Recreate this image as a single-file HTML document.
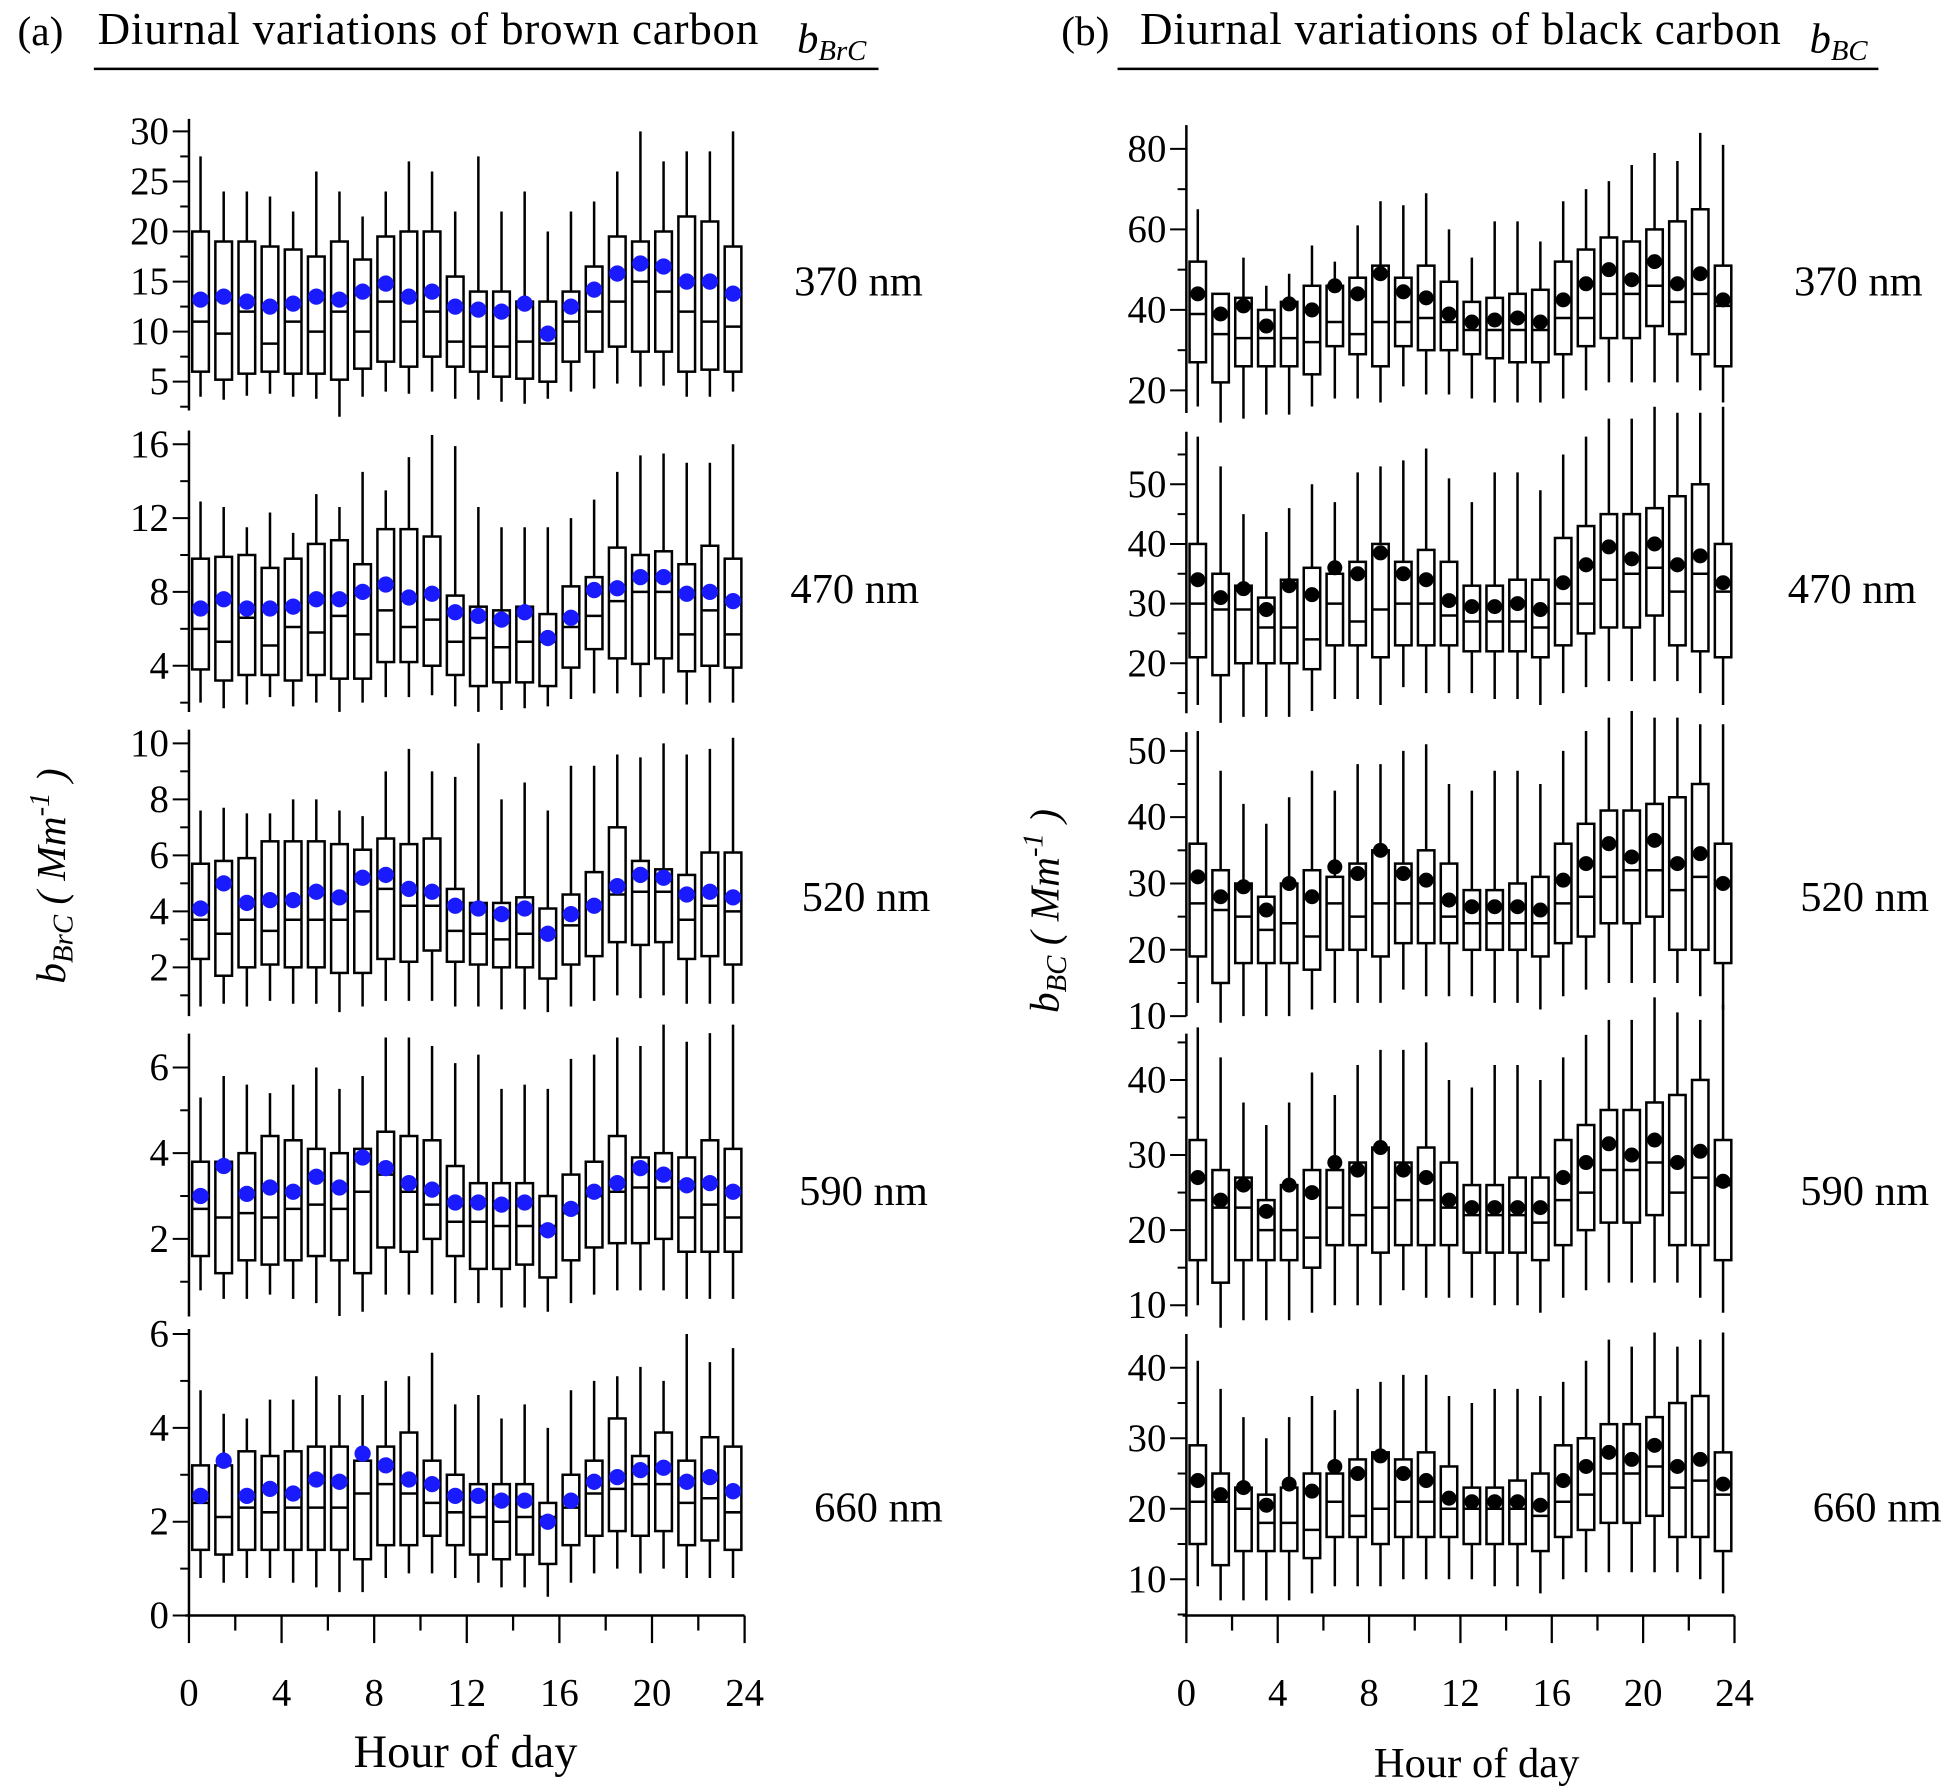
<!DOCTYPE html>
<html><head><meta charset="utf-8"><style>
html,body{margin:0;padding:0;background:#fff}
svg{display:block}
text{font-family:"Liberation Serif",serif;fill:#000}
</style></head><body>
<svg id="chart" width="1956" height="1792" viewBox="0 0 1563 1432" preserveAspectRatio="none" xmlns="http://www.w3.org/2000/svg">
<text x="14" y="36" font-size="33">(a)</text>
<text x="78" y="35" font-size="36" textLength="528">Diurnal variations of brown carbon</text>
<text x="637" y="42" font-size="34" font-style="italic">b<tspan font-size="23" dy="6">BrC</tspan></text>
<line x1="75" y1="55" x2="702" y2="55" stroke="#000" stroke-width="2"/>
<text x="848" y="36" font-size="33">(b)</text>
<text x="911" y="35" font-size="36" textLength="512">Diurnal variations of black carbon</text>
<text x="1446" y="42" font-size="34" font-style="italic">b<tspan font-size="23" dy="6">BC</tspan></text>
<line x1="893" y1="55" x2="1501" y2="55" stroke="#000" stroke-width="2"/>
<text transform="translate(52,700) rotate(-90)" text-anchor="middle" font-size="33" font-style="italic">b<tspan font-size="23" dy="6">BrC</tspan><tspan dy="-6"> ( Mm</tspan><tspan font-size="23" dy="-13">-1</tspan><tspan dy="13"> )</tspan></text>
<text transform="translate(846,728) rotate(-90)" text-anchor="middle" font-size="33" font-style="italic">b<tspan font-size="23" dy="6">BC</tspan><tspan dy="-6"> ( Mm</tspan><tspan font-size="23" dy="-13">-1</tspan><tspan dy="13"> )</tspan></text>
<text x="372" y="1412" font-size="37" text-anchor="middle">Hour of day</text>
<text x="1180" y="1420" font-size="34" text-anchor="middle">Hour of day</text>
</svg>
<script>
const hours = [0.5,1.5,2.5,3.5,4.5,5.5,6.5,7.5,8.5,9.5,10.5,11.5,12.5,13.5,14.5,15.5,16.5,17.5,18.5,19.5,20.5,21.5,22.5,23.5];
const xTicks = [0,4,8,12,16,20,24];

const brc370_mean=[13.2,13.5,13,12.5,12.8,13.5,13.2,14,14.8,13.5,14,12.5,12.2,12,12.8,9.8,12.5,14.2,15.8,16.8,16.5,15,15,13.8];
const brc370_q3=[20,19,19,18.5,18.2,17.5,19,17.2,19.5,20,20,15.5,14,14,13,13,14,16.5,19.5,19,20,21.5,21,18.5];
const brc370_med=[11,9.8,12,8.8,11,10,12,10,13,11,12,9,8.5,8.5,9,8.8,11,12,13,15,14,12,11,10.5];
const brc370_q1=[6,5.2,5.8,6,5.8,5.8,5.2,6.3,7,6.5,7.5,6.5,6,5.5,5.3,5,7,8,8.5,8,8,6,6.2,6];
const brc370_hi=[27.5,24,24,23.5,22,26,24,21.5,24,27,26,22,27.5,22,24,20,22,23,26,30,27,28,28,30];
const brc370_lo=[3.5,3.2,3.6,3.8,3.5,3.3,1.5,3.5,4,3.8,4,3.3,3.2,3.0,2.8,3.3,4,4.3,4.8,4.5,4.6,3.5,3.5,4];

const brc470_mean=[7.1,7.6,7.1,7.1,7.2,7.6,7.6,8.0,8.4,7.7,7.9,6.9,6.7,6.5,6.9,5.5,6.6,8.1,8.2,8.8,8.8,7.9,8.0,7.5];
const brc470_q3=[9.8,9.9,10,9.3,9.8,10.6,10.8,9.5,11.4,11.4,11,7.8,7.2,7.0,7.2,6.8,8.3,8.8,10.4,10,10.2,9.5,10.5,9.8];
const brc470_med=[6,5.3,6.6,5.1,6.1,5.8,6.7,5.7,7,6.1,6.5,5.3,5.5,5,5.3,5.3,6.1,6.7,7.5,8,8,5.7,7,5.7];
const brc470_q1=[3.8,3.2,3.5,3.5,3.2,3.5,3.3,3.3,4.2,4.2,4.0,3.5,2.9,3.1,3.1,2.9,3.9,4.9,4.4,4.1,4.4,3.7,4.0,3.9];
const brc470_hi=[12.9,12.6,11.5,12.3,11.2,13.3,12.6,14.5,13.5,15.3,16.5,15.9,12.6,11.5,11.5,11.5,12.0,13.0,14.5,15.4,15.5,15,15,16];
const brc470_lo=[2,1.7,1.9,2.3,1.8,2,1.5,2,2.3,2.3,2.4,1.8,1.5,1.6,1.7,1.8,2.2,2.5,2.5,2.3,2.5,1.9,2,2];

const brc520_mean=[4.1,5,4.3,4.4,4.4,4.7,4.5,5.2,5.3,4.8,4.7,4.2,4.1,3.9,4.1,3.2,3.9,4.2,4.9,5.3,5.2,4.6,4.7,4.5];
const brc520_q3=[5.7,5.8,5.9,6.5,6.5,6.5,6.4,6.2,6.6,6.4,6.6,4.8,4.3,4.3,4.5,4.1,4.6,5.4,7,5.8,5.5,5.3,6.1,6.1];
const brc520_med=[3.7,3.2,3.7,3.3,3.7,3.7,3.7,4,4.8,4.2,4.2,3.3,3.2,3,3.2,3.2,3.5,4.2,4.6,4.7,4.7,3.7,4.2,4];
const brc520_q1=[2.3,1.7,2,2.1,2,2,1.8,1.8,2.3,2.2,2.6,2.2,2.1,2,2,1.6,2.1,2.4,2.9,2.8,2.9,2.3,2.4,2.1];
const brc520_hi=[7.6,7.7,7.5,7.5,8,8,7.6,7.4,9,9.8,9,8.8,10,8,8.6,7.6,9.2,9.2,9.6,9.5,10,9.6,9.8,10.2];
const brc520_lo=[0.6,0.7,0.6,0.8,0.7,0.7,0.4,0.6,0.8,0.8,0.8,0.6,0.6,0.5,0.5,0.4,0.6,0.8,1,0.9,1,0.7,0.7,0.7];

const brc590_mean=[3.0,3.7,3.05,3.2,3.1,3.45,3.2,3.9,3.65,3.3,3.15,2.85,2.85,2.8,2.85,2.2,2.7,3.1,3.3,3.65,3.5,3.25,3.3,3.1];
const brc590_q3=[3.8,3.8,4,4.4,4.3,4.1,4,4.1,4.5,4.4,4.3,3.7,3.3,3.3,3.3,3,3.5,3.8,4.4,3.9,4.0,3.9,4.3,4.1];
const brc590_med=[2.7,2.5,2.6,2.5,2.7,2.8,2.7,3.1,3.5,3.1,2.8,2.4,2.4,2.3,2.3,2.3,2.6,3,3.1,3.2,3.2,2.5,2.8,2.5];
const brc590_q1=[1.6,1.2,1.5,1.4,1.5,1.6,1.5,1.2,1.8,1.7,2,1.6,1.3,1.3,1.4,1.1,1.5,1.8,1.9,1.9,2,1.7,1.7,1.7];
const brc590_hi=[5.3,5.8,5.6,5.4,5.6,6,5.5,5.8,6.7,6.7,6.5,6.1,6.3,5.5,5.6,5.5,6.2,6.3,6.7,6.5,7,6.6,6.8,7];
const brc590_lo=[0.8,0.6,0.6,0.7,0.6,0.5,0.2,0.3,0.7,0.7,0.7,0.5,0.5,0.4,0.4,0.3,0.5,0.7,0.8,0.8,0.8,0.6,0.6,0.6];

const brc660_mean=[2.55,3.3,2.55,2.7,2.6,2.9,2.85,3.45,3.2,2.9,2.8,2.55,2.55,2.45,2.45,2.0,2.45,2.85,2.95,3.1,3.15,2.85,2.95,2.65];
const brc660_q3=[3.2,3.2,3.5,3.4,3.5,3.6,3.6,3.3,3.6,3.9,3.3,3,2.8,2.8,2.8,2.4,3.0,3.3,4.2,3.4,3.9,3.3,3.8,3.6];
const brc660_med=[2.4,2.1,2.3,2.2,2.3,2.3,2.3,2.6,2.8,2.6,2.4,2.2,2.1,2.0,2.1,2.1,2.3,2.6,2.7,2.8,2.8,2.4,2.5,2.2];
const brc660_q1=[1.4,1.3,1.4,1.4,1.4,1.4,1.4,1.2,1.5,1.5,1.7,1.5,1.3,1.2,1.3,1.1,1.5,1.7,1.8,1.7,1.8,1.5,1.6,1.4];
const brc660_hi=[4.8,4.3,4.2,4.6,4.6,5.1,4.7,4.7,5,5.1,5.6,4.5,4.7,4.2,4.5,4.0,4.8,5,5.1,5.3,5,6,5.4,5.7];
const brc660_lo=[0.8,0.7,0.8,0.8,0.7,0.6,0.5,0.5,0.8,0.9,0.9,0.8,0.7,0.6,0.6,0.4,0.7,0.9,1,0.9,1,0.8,0.8,0.8];

const bc370_mean=[44,39,41,36,41.5,40,46,44,49,44.5,43,39,37,37.5,38,37,42.5,46.5,50,47.5,52,46.5,49,42.5];
const bc370_q3=[52,44,43,40,42,46,46,48,51,48,51,47,42,43,44,45,52,55,58,57,60,62,65,51];
const bc370_med=[39,34,33,33,33,32,37,34,37,37,38,37,35,35,35,35,38,38,44,44,46,42,44,41];
const bc370_q1=[27,22,26,26,26,24,31,29,26,31,30,30,29,28,27,27,29,31,33,33,36,34,29,26];
const bc370_hi=[65,44,53,46,49,56,52,61,67,66,69,60,53,62,62,57,67,70,72,76,79,77,84,81];
const bc370_lo=[16,12,13,14,14,16,18,18,17,21,19,19,18,17,17,17,18,20,22,22,22,22,20,17];

const bc470_mean=[34,31,32.5,29,33,31.5,36,35,38.5,35,34,30.5,29.5,29.5,30,29,33.5,36.5,39.5,37.5,40,36.5,38,33.5];
const bc470_q3=[40,35,33,31,34,36,35,37,40,37,39,37,33,33,34,34,41,43,45,45,46,48,50,40];
const bc470_med=[30,29,29,26,26,24,30,27,29,30,30,28,27,27,27,26,30,30,34,35,36,32,35,32];
const bc470_q1=[21,18,20,20,20,19,23,23,21,23,23,23,22,22,22,21,23,25,26,26,28,23,22,21];
const bc470_hi=[58,53,45,42,46,50,47,52,53,54,56,51,47,52,52,49,55,58,61,61,63,62,62,63];
const bc470_lo=[13,10,11,11,11,12,14,14,13,16,15,15,15,14,14,13,15,16,17,17,17,17,15,13];

const bc520_mean=[31,28,29.5,26,30,28,32.5,31.5,35,31.5,30.5,27.5,26.5,26.5,26.5,26,30.5,33,36,34,36.5,33,34.5,30];
const bc520_q3=[36,32,30,28,30,32,31,33,35,33,35,33,29,29,30,31,36,39,41,41,42,43,45,36];
const bc520_med=[27,26,25,23,24,22,27,25,27,27,27,25,24,24,24,24,27,28,31,32,32,29,31,30];
const bc520_q1=[19,15,18,18,18,17,20,20,19,21,21,21,20,20,20,19,21,22,24,24,25,20,20,18];
const bc520_hi=[53,47,42,39,43,47,44,48,48,50,51,45,44,47,47,45,50,53,55,56,55,55,54,54];
const bc520_lo=[12,9,10,10,10,11,12,12,12,14,13,13,13,12,12,11,13,14,15,15,15,15,13,11];

const bc590_mean=[27,24,26,22.5,26,25,29,28,31,28,27,24,23,23,23,23,27,29,31.5,30,32,29,30.5,26.5];
const bc590_q3=[32,28,27,24,26,28,28,29,31,29,31,29,26,26,27,27,32,34,36,36,37,38,40,32];
const bc590_med=[24,23,23,20,20,19,23,22,23,24,24,23,22,22,22,21,24,25,28,28,29,25,27,26];
const bc590_q1=[16,13,16,16,16,15,18,18,17,18,18,18,17,17,17,16,18,20,21,21,22,18,18,16];
const bc590_hi=[47,43,37,34,37,41,38,42,44,44,45,40,39,42,42,40,43,46,48,48,51,49,48,50];
const bc590_lo=[10,7,8,8,8,9,10,10,10,12,11,11,11,10,10,9,11,12,13,13,13,13,11,9];

const bc660_mean=[24,22,23,20.5,23.5,22.5,26,25,27.5,25,24,21.5,21,21,21,20.5,24,26,28,27,29,26,27,23.5];
const bc660_q3=[29,25,23,22,23,25,25,27,28,27,28,26,23,23,24,25,29,30,32,32,33,35,36,28];
const bc660_med=[21,21,20,18,18,17,21,19,20,21,21,20,20,20,20,19,21,22,25,25,26,23,24,22];
const bc660_q1=[15,12,14,14,14,13,16,16,15,16,16,16,15,15,15,14,16,17,18,18,19,16,16,14];
const bc660_hi=[41,37,33,30,33,36,34,37,38,39,39,36,35,37,37,36,38,41,44,43,45,43,44,45];
const bc660_lo=[9,7,7,7,7,8,9,9,9,10,10,10,10,9,9,8,10,11,11,11,11,11,10,8];

const brcTicks370=[5,10,15,20,25,30];
const brcTicks470=[4,8,12,16];
const brcTicks520=[2,4,6,8,10];
const brcTicks590=[2,4,6];
const brcTicks660=[0,2,4,6];
const bcTicks370=[20,40,60,80];
const bcTicks470=[20,30,40,50];
const bcTicks520=[10,20,30,40,50];
const bcTicks590=[10,20,30,40];
const bcTicks660=[10,20,30,40];
const wavelengths=["370 nm","470 nm","520 nm","590 nm","660 nm"];

const NS="http://www.w3.org/2000/svg";
const svg=document.getElementById('chart');
function mk(tag,attrs,parent){const e=document.createElementNS(NS,tag);for(const k in attrs)e.setAttribute(k,attrs[k]);(parent||svg).appendChild(e);return e;}

const panels=[
 {side:'left',x0:151,x1:595,top:95,bot:328,va:5,pa:305,vb:30,pb:105,ticks:brcTicks370,minor:2.5,d:[brc370_lo,brc370_q1,brc370_med,brc370_q3,brc370_hi,brc370_mean],wl:0,lx:686,ly:236},
 {side:'left',x0:151,x1:595,top:344,bot:569,va:4,pa:532,vb:16,pb:355,ticks:brcTicks470,minor:2,d:[brc470_lo,brc470_q1,brc470_med,brc470_q3,brc470_hi,brc470_mean],wl:1,lx:683,ly:482},
 {side:'left',x0:151,x1:595,top:583,bot:812,va:2,pa:773,vb:10,pb:594,ticks:brcTicks520,minor:1,d:[brc520_lo,brc520_q1,brc520_med,brc520_q3,brc520_hi,brc520_mean],wl:2,lx:692,ly:728},
 {side:'left',x0:151,x1:595,top:826,bot:1052,va:2,pa:990,vb:6,pb:853,ticks:brcTicks590,minor:1,d:[brc590_lo,brc590_q1,brc590_med,brc590_q3,brc590_hi,brc590_mean],wl:3,lx:690,ly:963},
 {side:'left',x0:151,x1:595,top:1062,bot:1291,va:0,pa:1291,vb:6,pb:1066,ticks:brcTicks660,minor:1,d:[brc660_lo,brc660_q1,brc660_med,brc660_q3,brc660_hi,brc660_mean],wl:4,lx:702,ly:1216},
 {side:'right',x0:948,x1:1386,top:100,bot:330,va:20,pa:312,vb:80,pb:119,ticks:bcTicks370,minor:10,d:[bc370_lo,bc370_q1,bc370_med,bc370_q3,bc370_hi,bc370_mean],wl:0,lx:1485,ly:236},
 {side:'right',x0:948,x1:1386,top:345,bot:570,va:20,pa:530,vb:50,pb:387,ticks:bcTicks470,minor:5,d:[bc470_lo,bc470_q1,bc470_med,bc470_q3,bc470_hi,bc470_mean],wl:1,lx:1480,ly:482},
 {side:'right',x0:948,x1:1386,top:585,bot:812,va:10,pa:812,vb:50,pb:600,ticks:bcTicks520,minor:5,d:[bc520_lo,bc520_q1,bc520_med,bc520_q3,bc520_hi,bc520_mean],wl:2,lx:1490,ly:728},
 {side:'right',x0:948,x1:1386,top:826,bot:1052,va:10,pa:1043,vb:40,pb:863,ticks:bcTicks590,minor:5,d:[bc590_lo,bc590_q1,bc590_med,bc590_q3,bc590_hi,bc590_mean],wl:3,lx:1490,ly:963},
 {side:'right',x0:948,x1:1386,top:1066,bot:1291,va:10,pa:1262,vb:40,pb:1093,ticks:bcTicks660,minor:5,d:[bc660_lo,bc660_q1,bc660_med,bc660_q3,bc660_hi,bc660_mean],wl:4,lx:1500,ly:1216}
];

panels.forEach((P,pi)=>{
  const g=mk('g',{});
  
  
  const xs=h=>P.x0+(P.x1-P.x0)*h/24;
  const ys=v=>P.pa+(v-P.va)*(P.pb-P.pa)/(P.vb-P.va);
  const ax=mk('line',{x1:P.x0,y1:P.top,x2:P.x0,y2:P.bot,stroke:'#000','stroke-width':2},g);
  
  
  const tmin=P.ticks[0],tmax=P.ticks[P.ticks.length-1];
  for(let v=tmin-P.minor;v<=tmax+P.minor+1e-9;v+=P.minor){
    const y=ys(v); if(y<P.top-1||y>P.bot+1) continue;
    const major=P.ticks.some(t=>Math.abs(t-v)<1e-6);
    mk('line',{x1:P.x0-(major?13:7),y1:y,x2:P.x0,y2:y,stroke:'#000','stroke-width':1.6},g);
  }
  P.ticks.forEach(t=>{
    const tx=mk('text',{x:P.x0-16,y:ys(t)+10,'font-size':31,'text-anchor':'end'},g);
    tx.textContent=t;
    
    
  });
  const [lo,q1,md,q3,hi,mn]=P.d;
  const bw=(P.x1-P.x0)/24*0.72;
  hours.forEach((h,i)=>{
    const cx=xs(h);
    const wl=mk('line',{x1:cx,y1:ys(lo[i]),x2:cx,y2:ys(hi[i]),stroke:'#000','stroke-width':2},g);
    
    
    const r=mk('rect',{x:cx-bw/2,y:ys(q3[i]),width:bw,height:ys(q1[i])-ys(q3[i]),fill:'#fff',stroke:'#000','stroke-width':2},g);
    
    
    const m=mk('line',{x1:cx-bw/2,y1:ys(md[i]),x2:cx+bw/2,y2:ys(md[i]),stroke:'#000','stroke-width':2},g);
    
    
  });
  hours.forEach((h,i)=>{
    const c=mk('circle',{cx:xs(h),cy:ys(mn[i]),r:P.side==='left'?6.5:6,fill:P.side==='left'?'#1a1aff':'#000'},g);
    
    
  });
  const wt=mk('text',{x:P.lx,y:P.ly,'font-size':34,'text-anchor':'middle'},g);
  wt.textContent=wavelengths[P.wl];
  
  
  if(P.wl===4){
    const xa=mk('line',{x1:P.x0-3,y1:P.bot,x2:P.x1,y2:P.bot,stroke:'#000','stroke-width':2},g);
    
    
    for(let h=0;h<=24;h+=2){
      const major=h%4===0;
      mk('line',{x1:xs(h),y1:P.bot,x2:xs(h),y2:P.bot+(major?22:12),stroke:'#000','stroke-width':1.8},g);
    }
    xTicks.forEach(t=>{
      const tx=mk('text',{x:xs(t),y:1363,'font-size':31,'text-anchor':'middle'},g);
      tx.textContent=t;
      
      
    });
  }
});
</script>
</body></html>
